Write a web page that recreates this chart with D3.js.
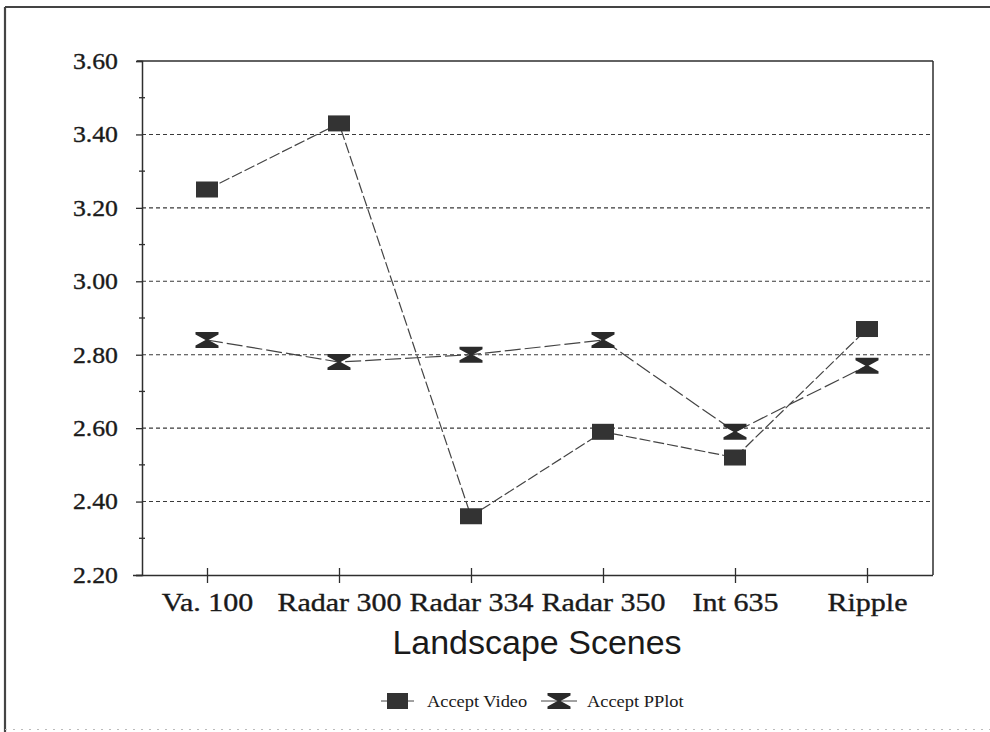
<!DOCTYPE html>
<html>
<head>
<meta charset="utf-8">
<script src="https://cdn.jsdelivr.net/npm/d3@7"></script>
<style>
  html, body { margin: 0; padding: 0; background: #fff; }
  svg { display: block; }
</style>
</head>
<body>
<svg id="chart" width="990" height="732"></svg>
<script>
const categories = ["Va. 100", "Radar 300", "Radar 334", "Radar 350", "Int 635", "Ripple"];
const acceptVideo = [3.25, 3.43, 2.36, 2.59, 2.52, 2.87];
const acceptPPlot = [2.84, 2.78, 2.80, 2.84, 2.59, 2.77];
const yTicks = [2.20, 2.40, 2.60, 2.80, 3.00, 3.20, 3.40, 3.60];
const yMinorTicks = [2.30, 2.50, 2.70, 2.90, 3.10, 3.30, 3.50];
const seriesNames = ["Accept Video", "Accept PPlot"];
const xTitle = "Landscape Scenes";

const svg = d3.select("#chart");
const ink = "#2e2e2e";
const plot = { left: 142, right: 933, top: 61, bottom: 575 };

// outer frame (top and left edges visible, faint dotted bottom)
svg.append("line").attr("x1", 5).attr("x2", 990).attr("y1", 7).attr("y2", 7)
  .attr("stroke", "#444").attr("stroke-width", 2);
svg.append("line").attr("x1", 5).attr("x2", 5).attr("y1", 7).attr("y2", 732)
  .attr("stroke", "#444").attr("stroke-width", 2.2);
svg.append("line").attr("x1", 5).attr("x2", 990).attr("y1", 729.5).attr("y2", 729.5)
  .attr("stroke", "#bbb").attr("stroke-width", 1).attr("stroke-dasharray", "2,6");

const x = d3.scalePoint().domain(categories).range([141, 933]).padding(0.5);
const y = d3.scaleLinear().domain([2.2, 3.6]).range([plot.bottom, plot.top]);

function stretch(sel, factor) {
  sel.each(function () {
    const len = this.getComputedTextLength();
    d3.select(this).attr("textLength", len * factor).attr("lengthAdjust", "spacingAndGlyphs");
  });
}

// gridlines
svg.append("g").selectAll("line")
  .data(yTicks.filter(v => v > 2.2 && v < 3.6))
  .join("line")
  .attr("x1", plot.left).attr("x2", plot.right)
  .attr("y1", d => y(d)).attr("y2", d => y(d))
  .attr("stroke", "#3a3a3a").attr("stroke-width", 1.1)
  .attr("stroke-dasharray", "4,3");

// plot frame top & right
svg.append("line").attr("x1", 137).attr("x2", plot.right).attr("y1", plot.top).attr("y2", plot.top)
  .attr("stroke", ink).attr("stroke-width", 1.5);
svg.append("line").attr("x1", plot.right).attr("x2", plot.right).attr("y1", plot.top).attr("y2", plot.bottom)
  .attr("stroke", ink).attr("stroke-width", 1.5);

// y axis
const yAxis = svg.append("g").attr("transform", `translate(${plot.left},0)`)
  .call(d3.axisLeft(y).tickValues(yTicks).tickFormat(d3.format(".2f")).tickSize(6).tickPadding(18));
yAxis.select(".domain").attr("stroke", ink).attr("stroke-width", 1.5);
yAxis.selectAll(".tick line").attr("stroke", ink).attr("stroke-width", 1.3);
yAxis.selectAll(".tick text")
  .attr("font-family", "'Liberation Serif', 'Times New Roman', serif")
  .attr("font-size", 23).attr("fill", "#1a1a1a")
  .attr("stroke", "#1a1a1a").attr("stroke-width", 0.35)
  .call(stretch, 1.12);

// minor ticks crossing the axis
svg.append("g").selectAll("line").data(yMinorTicks).join("line")
  .attr("x1", plot.left - 3).attr("x2", plot.left + 3)
  .attr("y1", d => y(d)).attr("y2", d => y(d))
  .attr("stroke", ink).attr("stroke-width", 1.3);

// x axis
const xAxis = svg.append("g").attr("transform", `translate(0,${plot.bottom})`)
  .call(d3.axisBottom(x).tickSize(8).tickPadding(10));
xAxis.select(".domain").attr("d", `M133,0.5H${plot.right}`).attr("stroke", ink).attr("stroke-width", 1.5);
xAxis.selectAll(".tick line").attr("y1", -7).attr("y2", 8).attr("stroke", ink).attr("stroke-width", 1.3);
xAxis.selectAll(".tick text")
  .attr("font-family", "'Liberation Serif', 'Times New Roman', serif")
  .attr("font-size", 25).attr("fill", "#1a1a1a")
  .attr("stroke", "#1a1a1a").attr("stroke-width", 0.35)
  .call(stretch, 1.2);

// x title
svg.append("text").attr("x", 537).attr("y", 654).attr("text-anchor", "middle")
  .attr("font-family", "'Liberation Sans', Arial, sans-serif").attr("font-size", 34)
  .attr("fill", "#1a1a1a").text(xTitle);

// lines
const line = d3.line().x((d, i) => x(categories[i])).y(d => y(d));
svg.append("path").datum(acceptVideo).attr("d", line)
  .attr("fill", "none").attr("stroke", "#444").attr("stroke-width", 1.2)
  .attr("stroke-dasharray", "11,3");
svg.append("path").datum(acceptPPlot).attr("d", line)
  .attr("fill", "none").attr("stroke", "#444").attr("stroke-width", 1.2)
  .attr("stroke-dasharray", "16,4");

// markers
const hourglass = "M-11.5,-8H11.5V-5.5L1.5,0L11.5,5.5V8H-11.5V5.5L-1.5,0L-11.5,-5.5Z";
svg.append("g").selectAll("rect").data(acceptVideo).join("rect")
  .attr("x", (d, i) => x(categories[i]) - 11).attr("y", d => y(d) - 8)
  .attr("width", 22).attr("height", 16).attr("fill", "#333");
svg.append("g").selectAll("path").data(acceptPPlot).join("path")
  .attr("transform", (d, i) => `translate(${x(categories[i])},${y(d)})`)
  .attr("d", hourglass).attr("fill", "#2a2a2a");

// legend
const lg = svg.append("g").attr("transform", "translate(0,701)");
lg.append("line").attr("x1", 381).attr("x2", 414).attr("y1", 0).attr("y2", 0).attr("stroke", "#444");
lg.append("rect").attr("x", 387).attr("y", -8).attr("width", 21).attr("height", 16).attr("fill", "#333");
lg.append("text").attr("x", 427).attr("y", 6).text(seriesNames[0])
  .attr("font-family", "'Liberation Serif', serif").attr("font-size", 16).attr("fill", "#1a1a1a")
  .call(stretch, 1.15);
lg.append("line").attr("x1", 541).attr("x2", 577).attr("y1", 0).attr("y2", 0).attr("stroke", "#444");
lg.append("path").attr("transform", "translate(559,0)").attr("d", hourglass).attr("fill", "#2a2a2a");
lg.append("text").attr("x", 587).attr("y", 6).text(seriesNames[1])
  .attr("font-family", "'Liberation Serif', serif").attr("font-size", 16).attr("fill", "#1a1a1a")
  .call(stretch, 1.15);
</script>
</body>
</html>
